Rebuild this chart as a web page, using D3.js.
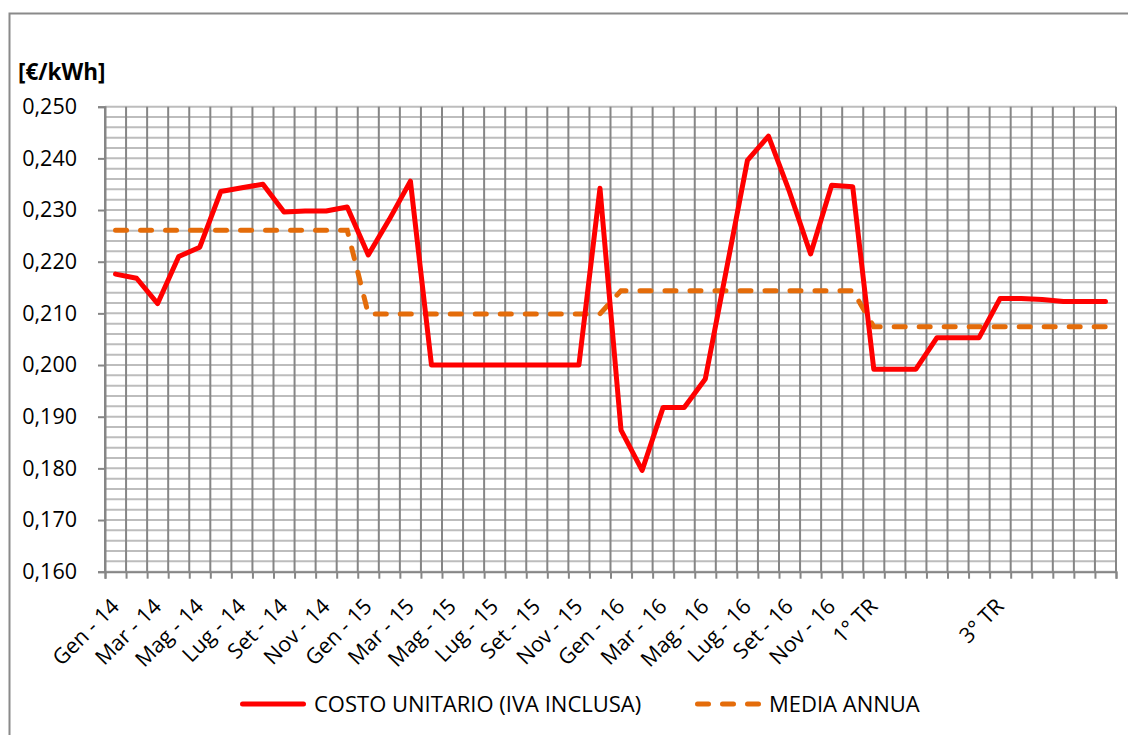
<!DOCTYPE html>
<html>
<head>
<meta charset="utf-8">
<script src="https://cdn.jsdelivr.net/npm/d3@7"></script>
<style>
  body { margin: 0; background: #fff; }
  svg { display: block; font-family: "Open Sans", "Liberation Sans", sans-serif; }
</style>
</head>
<body>
<div id="chart"></div>
<script>
// categories: months 2014-2016, then 2017 by quarter (Excel shows every other label)
const months = ["Gen", "Feb", "Mar", "Apr", "Mag", "Giu", "Lug", "Ago", "Set", "Ott", "Nov", "Dic"];
const years = ["14", "15", "16"];
const quarters = ["1° TR", "", "", "2° TR", "", "", "3° TR", "", "", "4° TR", "", ""];
const categories = years.flatMap(y => months.map(m => `${m} - ${y}`)).concat(quarters);

// COSTO UNITARIO (IVA INCLUSA) [€/kWh]
const costo2014 = [0.2176, 0.2168, 0.2119, 0.2210, 0.2228, 0.2336, 0.2343, 0.2350, 0.2296, 0.2298, 0.2298, 0.2306];
const costo2015 = [0.2213, 0.2282, 0.2356, 0.2000, 0.2000, 0.2000, 0.2000, 0.2000, 0.2000, 0.2000, 0.2000, 0.2342];
const costo2016 = [0.1874, 0.1796, 0.1918, 0.1918, 0.1973, 0.2184, 0.2396, 0.2443, 0.2335, 0.2215, 0.2348, 0.2345];
const costo2017 = [0.1992, 0.1992, 0.1992, 0.2053, 0.2053, 0.2053, 0.2129, 0.2129, 0.2127, 0.2123, 0.2123, 0.2123];
const costo = costo2014.concat(costo2015, costo2016, costo2017);

// MEDIA ANNUA
const mediaAnnua = [0.2261, 0.2099, 0.2144, 0.2074];
const media = mediaAnnua.flatMap(v => Array(12).fill(v));

const yTicks = [0.16, 0.17, 0.18, 0.19, 0.20, 0.21, 0.22, 0.23, 0.24, 0.25];

const width = 1128, height = 735;
const margin = { top: 106.7, right: 12, bottom: 163.3, left: 105 };
const plotW = width - margin.left - margin.right;   // ends at 1116
const plotH = height - margin.top - margin.bottom;  // ends at 571.7

const colors = { costo: "#FF0000", media: "#E46C0A", gridV: "#868686", gridH: "#BDBDBD", axis: "#868686" };

const it = d3.formatLocale({ decimal: ",", thousands: ".", grouping: [3], currency: ["€", ""] });
const fmt = it.format(".3f");

const svg = d3.select("#chart").append("svg")
    .attr("width", width)
    .attr("height", height);

// outer chart frame (cut by the picture edges)
svg.append("path")
    .attr("d", `M9.5,${height + 5}V13.5H${width + 5}`)
    .attr("fill", "none")
    .attr("stroke", "#8a8a8a")
    .attr("stroke-width", 2);

const g = svg.append("g").attr("transform", `translate(${margin.left},${margin.top})`);

const x = d3.scaleBand().domain(d3.range(categories.length)).range([0, plotW]).padding(0);
const xEdge = d3.scaleLinear().domain([0, categories.length]).range([0, plotW]);
const y = d3.scaleLinear().domain([0.16, 0.25]).range([plotH, 0]);

// horizontal gridlines (major + minor, all light)
g.append("g")
    .selectAll("line")
    .data(y.ticks(45))
    .join("line")
    .attr("x1", 0).attr("x2", plotW)
    .attr("y1", d => y(d)).attr("y2", d => y(d))
    .attr("stroke", colors.gridH)
    .attr("stroke-width", 2);

// vertical gridlines at category boundaries
g.append("g")
    .selectAll("line")
    .data(d3.range(categories.length + 1))
    .join("line")
    .attr("x1", d => xEdge(d)).attr("x2", d => xEdge(d))
    .attr("y1", 0).attr("y2", plotH)
    .attr("stroke", colors.gridV)
    .attr("stroke-width", 2);

// x axis: ticks at boundaries
const xAxis = g.append("g")
    .attr("transform", `translate(0,${plotH})`)
    .call(d3.axisBottom(xEdge).tickValues(d3.range(categories.length + 1)).tickSize(7).tickFormat(""));
xAxis.select(".domain").attr("stroke", colors.axis).attr("stroke-width", 2);
xAxis.selectAll(".tick line").attr("stroke", colors.axis).attr("stroke-width", 2);

// x labels, every other category, rotated
g.append("g")
    .selectAll("text")
    .data(categories.map((c, i) => ({ c, i })).filter(d => d.i % 2 === 0))
    .join("text")
    .attr("transform", d => `translate(${x(d.i) + x.bandwidth() / 2 + 5},${plotH + 36}) rotate(-45)`)
    .attr("text-anchor", "end")
    .attr("font-size", "21.5px")
    .attr("fill", "#000")
    .text(d => d.c);

// y axis
const yAxis = g.append("g")
    .call(d3.axisLeft(y).tickValues(yTicks).tickSize(7).tickPadding(21).tickFormat(fmt));
yAxis.select(".domain").attr("stroke", colors.axis).attr("stroke-width", 2);
yAxis.selectAll(".tick line").attr("stroke", colors.axis).attr("stroke-width", 2);
yAxis.selectAll("text").attr("font-size", "21.5px").attr("fill", "#000")
    .attr("font-family", "'Open Sans', sans-serif");

// unit label
svg.append("text")
    .attr("x", 18)
    .attr("y", 80)
    .attr("font-size", "22.5px")
    .attr("font-weight", "700")
    .attr("fill", "#000")
    .text("[€/kWh]");

const line = d3.line()
    .x((d, i) => x(i) + x.bandwidth() / 2)
    .y(d => y(d));

g.append("path")
    .datum(media)
    .attr("d", line)
    .attr("fill", "none")
    .attr("stroke", colors.media)
    .attr("stroke-width", 5)
    .attr("stroke-linecap", "round")
    .attr("stroke-dasharray", "11,14");

g.append("path")
    .datum(costo)
    .attr("d", line)
    .attr("fill", "none")
    .attr("stroke", colors.costo)
    .attr("stroke-width", 5)
    .attr("stroke-linejoin", "round")
    .attr("stroke-linecap", "round");

// legend
const legendItems = [
    { label: "COSTO UNITARIO (IVA INCLUSA)", color: colors.costo, dash: null, x: 240 },
    { label: "MEDIA ANNUA", color: colors.media, dash: "11,14", x: 695 }
];
const legend = svg.append("g").attr("transform", "translate(0,704)");
legendItems.forEach(d => {
    legend.append("line")
        .attr("x1", d.x + 2.5).attr("x2", d.x + 63.5)
        .attr("y1", 0).attr("y2", 0)
        .attr("stroke", d.color)
        .attr("stroke-width", 5)
        .attr("stroke-linecap", "round")
        .attr("stroke-dasharray", d.dash);
    legend.append("text")
        .attr("x", d.x + 74)
        .attr("y", 0)
        .attr("dy", "0.36em")
        .attr("font-size", "22px")
        .attr("fill", "#000")
        .text(d.label);
});
</script>
</body>
</html>
